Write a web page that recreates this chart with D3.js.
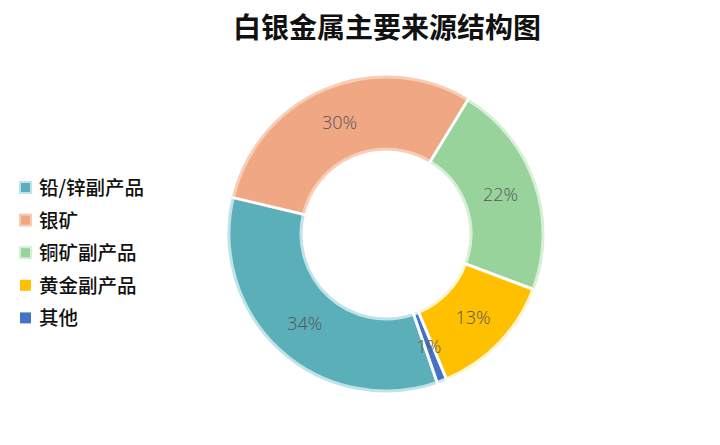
<!DOCTYPE html>
<html>
<head>
<meta charset="utf-8">
<script src="https://cdn.jsdelivr.net/npm/d3@7"></script>
<style>
  body { margin: 0; background: #fff; }
</style>
</head>
<body>
<div class="chart"></div>
<script>
// Data
const categories = ["铅/锌副产品", "银矿", "铜矿副产品", "黄金副产品", "其他"];
const shares = [34, 30, 22, 13, 1];
const fills = ["#5bafb8", "#f0a884", "#98d39b", "#ffc000", "#4472c4"];
const edges = ["#bfe3ea", "#f8cdb6", "#d7efd7", "#fff4d0", "#dbe4f4"];

const width = 720, height = 445;
const center = {x: 386, y: 234};
const outerR = 157, innerR = 85;

const svg = d3.select(".chart")
    .append("svg")
    .attr("width", width)
    .attr("height", height);

// Title
svg.append("text")
    .attr("x", 387)
    .attr("y", 38)
    .attr("text-anchor", "middle")
    .attr("font-family", "'Noto Sans CJK SC'")
    .attr("font-weight", "bold")
    .attr("font-size", 28)
    .attr("fill", "#111")
    .text("白银金属主要来源结构图");

// Donut
const startAngle = 161 * Math.PI / 180;
const pie = d3.pie()
    .sort(null)
    .startAngle(startAngle)
    .endAngle(startAngle + 2 * Math.PI)
    .value(d => d);

const arc = d3.arc().innerRadius(innerR).outerRadius(outerR);
const labelArc = d3.arc().innerRadius(121).outerRadius(121);

const g = svg.append("g")
    .attr("transform", `translate(${center.x}, ${center.y})`);

const arcs = pie(shares);

g.selectAll("path.slice")
    .data(arcs)
    .enter()
    .append("path")
        .attr("class", "slice")
        .attr("d", arc)
        .attr("fill", (d, i) => fills[i])
        .attr("stroke", (d, i) => edges[i])
        .attr("stroke-width", 3);

// white separators between slices
g.selectAll("line.sep")
    .data(arcs)
    .enter()
    .append("line")
        .attr("class", "sep")
        .attr("x1", d => Math.sin(d.startAngle) * (innerR - 2))
        .attr("y1", d => -Math.cos(d.startAngle) * (innerR - 2))
        .attr("x2", d => Math.sin(d.startAngle) * (outerR + 2))
        .attr("y2", d => -Math.cos(d.startAngle) * (outerR + 2))
        .attr("stroke", "#fff")
        .attr("stroke-width", 2.5);

g.selectAll("text.pct")
    .data(arcs)
    .enter()
    .append("text")
        .attr("class", "pct")
        .attr("transform", d => `translate(${labelArc.centroid(d)})`)
        .attr("text-anchor", "middle")
        .attr("dy", "0.35em")
        .attr("font-family", "'Open Sans'")
        .attr("font-weight", 300)
        .attr("font-size", 18)
        .attr("fill", "#555")
        .text(d => d.value + "%");

// Legend
const legend = svg.append("g")
    .attr("transform", "translate(19, 188)");

const rows = legend.selectAll("g")
    .data(categories)
    .enter()
    .append("g")
        .attr("transform", (d, i) => `translate(0, ${i * 32.6})`);

rows.append("rect")
    .attr("x", 1)
    .attr("y", -6)
    .attr("width", 11)
    .attr("height", 11)
    .attr("fill", (d, i) => fills[i])
    .attr("stroke", (d, i) => i < 3 ? edges[i] : "none")
    .attr("stroke-width", 2);

rows.append("text")
    .attr("x", 20)
    .attr("dy", "0.36em")
    .attr("font-family", "'Noto Sans CJK SC'")
    .attr("font-weight", 500)
    .attr("font-size", 19.5)
    .attr("fill", "#111")
    .text(d => d);
</script>
</body>
</html>
